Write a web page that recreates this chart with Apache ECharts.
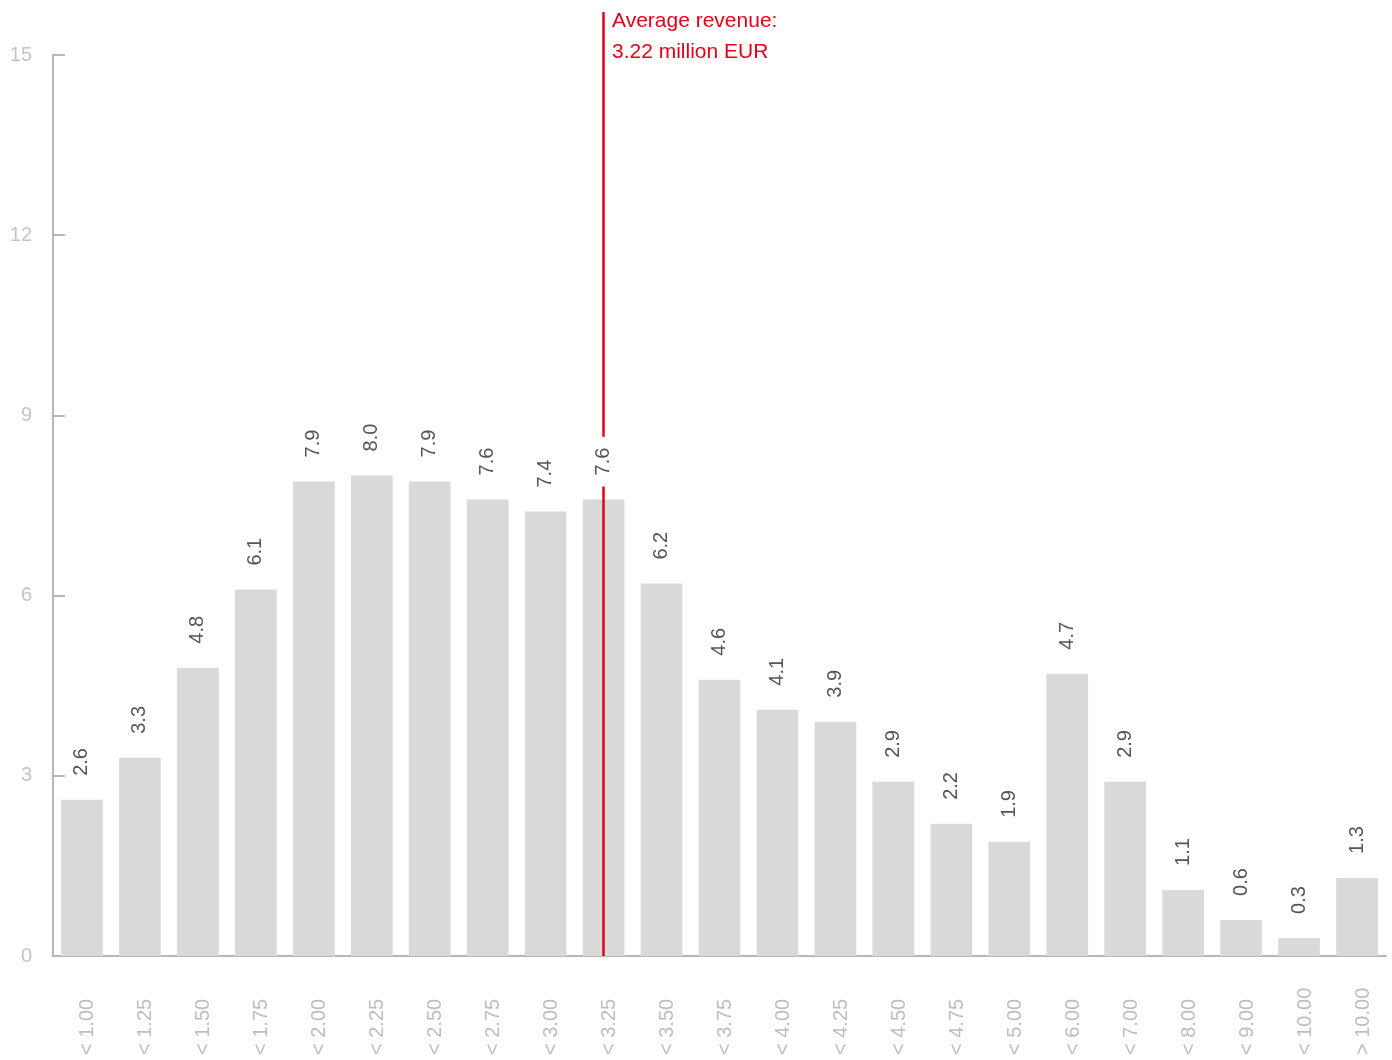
<!DOCTYPE html>
<html>
<head>
<meta charset="utf-8">
<script src="https://cdn.jsdelivr.net/npm/echarts@6/dist/echarts.min.js"></script>
<style>
  html, body { margin: 0; padding: 0; background: #fff; }
  #chart { width: 1392px; height: 1060px; }
</style>
</head>
<body>
<div id="chart"></div>
<script>
// revenue classes (million EUR) and share of companies (%)
var categories = ['< 1.00','< 1.25','< 1.50','< 1.75','< 2.00','< 2.25','< 2.50','< 2.75','< 3.00','< 3.25',
  '< 3.50','< 3.75','< 4.00','< 4.25','< 4.50','< 4.75','< 5.00','< 6.00','< 7.00','< 8.00','< 9.00','< 10.00','> 10.00'];
var shares = [2.6, 3.3, 4.8, 6.1, 7.9, 8.0, 7.9, 7.6, 7.4, 7.6, 6.2, 4.6, 4.1, 3.9, 2.9, 2.2, 1.9, 4.7, 2.9, 1.1, 0.6, 0.3, 1.3];
var avgClass = '< 3.25';
var avgText = ['Average revenue:', '3.22 million EUR'];

var RED = '#e2001a', AXIS = '#b8b8b8';
var font = '"Liberation Sans", Arial, sans-serif';

var labelData = shares.map(function(v, i){
  if (categories[i] !== avgClass) return v;
  // white box cuts the average line around this label
  return {value: v, label: {backgroundColor: '#fff', padding: [0, 11, 0, 11], distance: 13}};
});

var chart = echarts.init(document.getElementById('chart'));
chart.setOption({
  animation: false,
  textStyle: {fontFamily: font},
  grid: [
    {left: 53, right: 6, top: 55, bottom: 104},
    {left: 53, right: 6, top: 12, bottom: 104}
  ],
  xAxis: [
    {type: 'category', gridIndex: 0, data: categories,
      axisLine: {lineStyle: {color: AXIS, width: 2}},
      axisTick: {show: false},
      axisLabel: {interval: 0, rotate: 90, align: 'left', verticalAlign: 'top', lineHeight: 12, margin: 99,
        fontSize: 20, color: '#bdbdbd'}},
    {type: 'category', gridIndex: 1, data: categories, show: false}
  ],
  yAxis: [
    {type: 'value', gridIndex: 0, min: 0, max: 15, interval: 3,
      axisLine: {show: true, lineStyle: {color: AXIS, width: 2}},
      axisTick: {show: true, inside: true, length: 12, lineStyle: {color: AXIS, width: 2}},
      axisLabel: {fontSize: 20, color: '#c4c4c4', margin: 21},
      splitLine: {show: false}},
    {type: 'value', gridIndex: 1, min: 0, max: 1, show: false}
  ],
  series: [
    {type: 'bar', xAxisIndex: 0, yAxisIndex: 0, data: shares, barCategoryGap: '28%',
      itemStyle: {color: '#d9d9d9'}, z: 2},
    {type: 'bar', xAxisIndex: 0, yAxisIndex: 0, data: labelData, barCategoryGap: '28%', barGap: '-100%',
      itemStyle: {color: 'rgba(0,0,0,0)'}, z: 10, silent: true,
      label: {show: true, position: 'top', rotate: 90, align: 'left', verticalAlign: 'middle',
        distance: 24, fontSize: 20, color: '#555', formatter: function(p){ return p.value.toFixed(1); }}},
    {type: 'line', xAxisIndex: 1, yAxisIndex: 1, data: [],
      markLine: {silent: true, symbol: ['none', 'none'], label: {show: false},
        lineStyle: {color: RED, width: 2.5, type: 'solid'},
        data: [[{coord: [avgClass, 0]}, {coord: [avgClass, 1]}]]}}
  ],
  graphic: [
    {type: 'text', left: 612, top: 6,
      style: {text: avgText.join('\n'), fontSize: 21, lineHeight: 31, fill: RED, fontFamily: font}}
  ]
});
</script>
</body>
</html>
